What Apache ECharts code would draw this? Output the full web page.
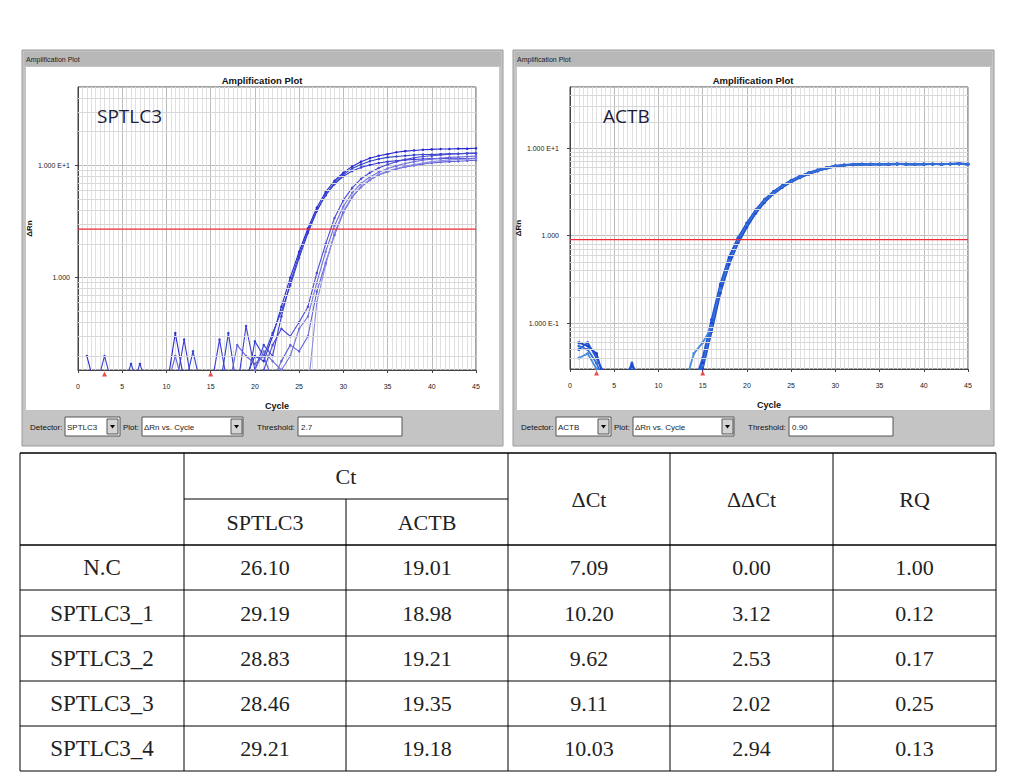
<!DOCTYPE html>
<html><head><meta charset="utf-8">
<script src="https://cdn.jsdelivr.net/npm/echarts@6/dist/echarts.min.js"></script>
<style>html,body{margin:0;padding:0;background:#fff}#c{width:1009px;height:775px}</style>
</head><body><div id="c"></div>
<script>
// ---------- data ----------
const cycles = [1,2,3,4,5,6,7,8,9,10,11,12,13,14,15,16,17,18,19,20,21,22,23,24,25,26,27,28,29,30,31,32,33,34,35,36,37,38,39,40,41,42,43,44,45];

// SPTLC3 amplification curves (delta Rn per cycle)
const sptlc3_a = [0.2,0.1,0.1,0.1,0.1,0.1,0.1,0.1,0.1,0.1, 0.32,0.12,0.1,0.1,0.1,0.1,0.1,0.1,0.13,0.2, 0.18,0.3,0.55,1.0,1.7,2.75,4.2,5.8,7.3,8.6, 9.8,10.8,11.6,12.2,12.6,13.1,13.4,13.6,13.8,13.9, 14.0,14.0,14.1,14.1,14.2];
const sptlc3_b = [0.1,0.1,0.2,0.1,0.1,0.1,0.17,0.1,0.1,0.1, 0.1,0.28,0.1,0.1,0.1,0.28,0.1,0.1,0.37,0.15, 0.25,0.2,0.45,0.9,1.6,2.6,4.0,5.4,6.8,8.0, 8.9,9.6,10.1,10.5,10.8,11.0,11.2,11.3,11.4,11.5, 11.5,11.6,11.6,11.5,11.6];
const sptlc3_c = [0.1,0.1,0.1,0.1,0.1,0.17,0.1,0.1,0.1,0.1, 0.1,0.1,0.22,0.1,0.1,0.1,0.32,0.1,0.1,0.27, 0.2,0.32,0.5,0.85,1.5,2.5,3.9,5.5,7.0,8.3, 9.4,10.2,10.9,11.4,11.8,12.0,12.2,12.4,12.5,12.5, 12.6,12.7,12.7,12.8,12.8];
const sptlc3_d = [0.1,0.1,0.1,0.1,0.1,0.1,0.1,0.1,0.1,0.1, 0.2,0.1,0.1,0.1,0.1,0.1,0.1,0.25,0.2,0.17, 0.2,0.12,0.18,0.25,0.22,0.3,0.75,1.35,2.4,3.8, 5.2,6.4,7.4,8.2,8.8,9.3,9.7,10.0,10.3,10.5, 10.7,10.8,10.9,11.0,11.1];
const sptlc3_e = [0.1,0.1,0.1,0.1,0.1,0.1,0.1,0.1,0.1,0.1, 0.1,0.1,0.1,0.1,0.1,0.1,0.1,0.1,0.1,0.15, 0.22,0.18,0.15,0.2,0.35,0.45,0.9,1.7,2.9,4.3, 5.7,6.9,7.9,8.7,9.4,9.9,10.4,10.8,11.1,11.4, 11.6,11.8,11.9,12.0,12.1];
const sptlc3_f = [0.1,0.1,0.1,0.1,0.1,0.1,0.1,0.1,0.1,0.1, 0.1,0.1,0.1,0.1,0.1,0.1,0.1,0.1,0.1,0.1, 0.15,0.25,0.35,0.3,0.4,0.55,1.1,2.0,3.4,4.9, 6.3,7.6,8.6,9.5,10.2,10.8,11.3,11.7,12.0,12.2, 12.4,12.6,12.7,12.8,12.9];
const sptlc3_g = [0.1,0.1,0.1,0.1,0.1,0.1,0.1,0.1,0.1,0.1, 0.1,0.1,0.1,0.1,0.1,0.1,0.1,0.1,0.1,0.1, 0.1,0.1,0.1,0.1,0.1,0.1,0.6,1.3,2.5,3.9, 5.3,6.5,7.5,8.3,8.9,9.4,9.8,10.2,10.5,10.8, 11.0,11.2,11.3,11.4,11.5];

// ACTB amplification curves
const actb_a = [0.06,0.055,0.045,0.02,0.02,0.02,0.02,0.02,0.02,0.02, 0.02,0.02,0.02,0.02,0.035,0.10,0.27,0.56,0.93,1.38, 1.95,2.55,3.15,3.7,4.25,4.75,5.2,5.6,6.0,6.25, 6.4,6.5,6.55,6.55,6.6,6.55,6.6,6.5,6.55,6.6, 6.55,6.6,6.6,6.65,6.5];
const actb_b = [0.05,0.06,0.04,0.025,0.02,0.02,0.035,0.02,0.02,0.02, 0.02,0.02,0.02,0.02,0.04,0.11,0.28,0.58,0.95,1.4, 1.98,2.6,3.2,3.75,4.3,4.8,5.25,5.65,6.0,6.3, 6.45,6.55,6.6,6.6,6.55,6.6,6.65,6.6,6.55,6.6, 6.6,6.55,6.6,6.7,6.6];
const actb_c = [0.04,0.045,0.03,0.02,0.02,0.02,0.02,0.02,0.02,0.02, 0.02,0.02,0.02,0.045,0.06,0.09,0.24,0.5,0.85,1.3, 1.85,2.45,3.05,3.6,4.15,4.65,5.1,5.5,5.9,6.2, 6.35,6.45,6.5,6.55,6.5,6.55,6.6,6.55,6.5,6.55, 6.6,6.55,6.6,6.6,6.5];
const actb_d = [0.02,0.02,0.02,0.02,0.02,0.02,0.033,0.02,0.02,0.02, 0.02,0.02,0.02,0.02,0.03,0.08,0.22,0.47,0.82,1.25, 1.8,2.4,3.0,3.55,4.1,4.6,5.05,5.5,5.85,6.15, 6.35,6.45,6.5,6.5,6.55,6.5,6.55,6.6,6.55,6.5, 6.6,6.55,6.6,6.65,6.55];
const actb_e = [0.055,0.05,0.035,0.02,0.02,0.02,0.02,0.02,0.02,0.02, 0.02,0.02,0.02,0.02,0.033,0.095,0.25,0.52,0.88,1.33, 1.9,2.5,3.1,3.65,4.2,4.7,5.15,5.55,5.95,6.2, 6.4,6.5,6.5,6.55,6.6,6.55,6.6,6.55,6.55,6.6, 6.6,6.55,6.6,6.6,6.55];

const thresholdSPTLC3 = 2.7;
const thresholdACTB = 0.90;
const baselineMarks = [3, 15];

// table
const tableRows = ['N.C','SPTLC3_1','SPTLC3_2','SPTLC3_3','SPTLC3_4'];
const ctSPTLC3 = [26.10, 29.19, 28.83, 28.46, 29.21];
const ctACTB   = [19.01, 18.98, 19.21, 19.35, 19.18];
const deltaCt  = [7.09, 10.20, 9.62, 9.11, 10.03];
const ddCt     = [0.00, 3.12, 2.53, 2.02, 2.94];
const rq       = [1.00, 0.12, 0.17, 0.25, 0.13];

// ---------- build ----------
const FONT = '"Liberation Sans Narrow","Liberation Sans",Arial,sans-serif';
const X_MIN = 0, X_MAX = 45;
const S_MIN = 0.15, S_MAX = 50, A_MIN = 0.03, A_MAX = 50;
const minorLog = [0.04,0.05,0.06,0.07,0.08,0.09,0.2,0.3,0.4,0.5,0.6,0.7,0.8,0.9,2,3,4,5,6,7,8,9,20,30,40];

function pairs(vals){ return vals.map((v,i)=>[cycles[i], v]); }

function xAx(gi){
  return {type:'value', gridIndex:gi, min:X_MIN, max:X_MAX, interval:5,
    name:'Cycle', nameLocation:'middle', nameGap:31,
    nameTextStyle:{fontSize:9, fontWeight:'bold', color:'#111', fontFamily:FONT},
    axisLine:{show:true, onZero:false, lineStyle:{color:'#444'}},
    axisTick:{show:true, length:3, lineStyle:{color:'#444'}},
    axisLabel:{fontSize:7, color:'#222', margin:13, fontFamily:FONT},
    splitLine:{show:true, lineStyle:{color:'#bcbcbc', width:1}},
    minorTick:{show:false, splitNumber:10},
    minorSplitLine:{show:true, lineStyle:{color:'#e0e0e0', width:1}}};
}
function yAx(gi, mn, mx, margin, gap){
  return {type:'log', logBase:10, gridIndex:gi, min:mn, max:mx,
    name:'ΔRn', nameLocation:'middle', nameGap:gap,
    nameTextStyle:{fontSize:8, fontWeight:'bold', color:'#111', fontFamily:FONT},
    axisLine:{show:true, lineStyle:{color:'#444'}},
    axisTick:{show:true, length:3, lineStyle:{color:'#444'}},
    axisLabel:{showMinLabel:false, showMaxLabel:false, fontSize:7, color:'#222', margin:margin, fontFamily:FONT,
      formatter:v=>{const e=Math.round(Math.log10(v)); return e===0?'1.000':'1.000 E'+(e>0?'+':'')+e;}},
    splitLine:{show:true, lineStyle:{color:'#bcbcbc', width:1}}};
}
function gridLineSeries(gi, mn, mx, thr){
  return {type:'line', xAxisIndex:gi, yAxisIndex:gi, data:[], z:1, silent:true,
    markLine:{silent:true, symbol:['none','none'], label:{show:false}, animation:false,
      lineStyle:{color:'#d8d8d8', type:'solid', width:1},
      data: minorLog.filter(v=>v>mn && v<mx && Math.abs(v-thr)>1e-9).map(v=>({yAxis:v}))}};
}
function thrSeries(gi, t){
  return {type:'line', xAxisIndex:gi, yAxisIndex:gi, data:[[X_MIN,t],[X_MAX,t]], z:10, silent:true,
    showSymbol:false, lineStyle:{color:'#ee2b36', width:1.2}, itemStyle:{color:'#ee2b36'}};
}
function curve(gi, vals, color, w, sym){
  return {type:'line', xAxisIndex:gi, yAxisIndex:gi, data:pairs(vals), z:4, clip:true,
    showSymbol:true, symbol:'circle', symbolSize:sym, lineStyle:{color:color, width:w},
    itemStyle:{color:color}};
}
function marks(gi, mn){
  return {type:'scatter', xAxisIndex:gi, yAxisIndex:gi, data:baselineMarks.map(c=>[c,mn]), z:11, clip:false,
    symbol:'triangle', symbolSize:[5,5], symbolOffset:[0,4], itemStyle:{color:'#e02020'}};
}

const leftColors = ['#2a2ad0','#3c3cd8','#2f44c8','#6060d8','#7070dc','#4a4ad4','#8a8ae4'];
const rightColors = ['#1a44c8','#2356d6','#4a8ae0','#1f4ccc','#3570d8'];
const leftCurves = [sptlc3_a,sptlc3_b,sptlc3_c,sptlc3_d,sptlc3_e,sptlc3_f,sptlc3_g];
const rightCurves = [actb_a,actb_b,actb_c,actb_d,actb_e];

// ---------- graphic chrome ----------
function txt(x,y,s,font,color,align,z){
  return {type:'text', z:z||50, silent:true, style:{x:x, y:y, text:s, font:font, fill:color||'#111',
    textAlign:align||'left', textVerticalAlign:'middle', align:align||'left', verticalAlign:'middle'}};
}
function rect(x,y,w,h,fill,stroke,z){
  return {type:'rect', z:z, silent:true, shape:{x:x,y:y,width:w,height:h}, style:{fill:fill, stroke:stroke||null, lineWidth:1}};
}
function dropArrow(x,y){
  return [rect(x,y,11,15,'#d4d4d4','#555',-5),
    {type:'polygon', z:-4, silent:true, shape:{points:[[x+3,y+6],[x+8,y+6],[x+5.5,y+9.5]]}, style:{fill:'#000'}}];
}
function panel(ox, det, thr, big, bigX){
  let e = [];
  e.push(rect(ox,50,481,396,'#c4c4c4','#9a9a9a',-10));
  e.push(rect(ox+2,52,477,14,'#b8b8b8',null,-9));
  e.push(txt(ox+4,59,'Amplification Plot','7px '+FONT,'#222','left'));
  e.push(rect(ox+4,67,473,343,'#ffffff',null,-9));
  e.push(txt(ox+240,80,'Amplification Plot','bold 9.5px '+FONT,'#111','center'));
  e.push(txt(ox+bigX,116,big,'19px "Open Sans","Noto Sans",sans-serif','#1c1c3c','left'));
  const ty = 427;
  e.push(txt(ox+8,ty,'Detector:','8px '+FONT,'#111','left'));
  e.push(rect(ox+43,417,55,19,'#ffffff','#555',-6));
  e.push(txt(ox+45,ty,det,'8px '+FONT,'#222','left'));
  e = e.concat(dropArrow(ox+85,419));
  e.push(txt(ox+101,ty,'Plot:','8px '+FONT,'#111','left'));
  e.push(rect(ox+120,417,101,19,'#ffffff','#555',-6));
  e.push(txt(ox+122,ty,'ΔRn vs. Cycle','8px '+FONT,'#222','left'));
  e = e.concat(dropArrow(ox+209,419));
  e.push(txt(ox+235,ty,'Threshold:','8px '+FONT,'#111','left'));
  e.push(rect(ox+276,417,104,19,'#ffffff','#555',-6));
  e.push(txt(ox+279,ty,thr,'8px '+FONT,'#222','left'));
  return e;
}

function table(){
  const e = [];
  const xs = [20,184,346,508,670,833,996];
  const hy = [453,545,590,636,681,726,771];
  const L = (x1,y1,x2,y2,w)=>({type:'line', z:20, silent:true, shape:{x1,y1,x2,y2}, style:{stroke:'#000', lineWidth:w||1}});
  hy.forEach((y,i)=>e.push(L(20,y,996,y, (i===0||i===1)?1.5:1)));
  e.push(L(184,499,508,499));
  [20,184,508,670,833,996].forEach(x=>e.push(L(x,453,x,771)));
  e.push(L(346,499,346,771));
  const F = '22px "Liberation Serif","DejaVu Serif",serif';
  const FL = '23px "Liberation Serif","DejaVu Serif",serif';
  const cx = xs.slice(0,6).map((x,i)=>(x+xs[i+1])/2);
  e.push(txt((184+508)/2,476,'Ct',F,'#222','center'));
  e.push(txt(cx[1],522,'SPTLC3',F,'#222','center'));
  e.push(txt(cx[2],522,'ACTB',F,'#222','center'));
  e.push(txt(cx[3],499,'ΔCt',F,'#222','center'));
  e.push(txt(cx[4],499,'ΔΔCt',F,'#222','center'));
  e.push(txt(cx[5],499,'RQ',F,'#222','center'));
  tableRows.forEach((r,i)=>{
    const y = (hy[i+1]+hy[i+2])/2;
    const vals = [r, ctSPTLC3[i].toFixed(2), ctACTB[i].toFixed(2), deltaCt[i].toFixed(2), ddCt[i].toFixed(2), rq[i].toFixed(2)];
    vals.forEach((v,j)=>e.push(txt(cx[j],y,v,j===0?FL:F,'#222','center')));
  });
  return e;
}

const series = [
  gridLineSeries(0,S_MIN,S_MAX,thresholdSPTLC3), gridLineSeries(1,A_MIN,A_MAX,thresholdACTB),
  ...leftCurves.map((c,i)=>curve(0,c,leftColors[i],1.1,2.5)),
  ...rightCurves.map((c,i)=>curve(1,c,rightColors[i],1.8,3)),
  thrSeries(0,thresholdSPTLC3), thrSeries(1,thresholdACTB),
  marks(0,S_MIN), marks(1,A_MIN)
];

const chart = echarts.init(document.getElementById('c'), null, {renderer:'svg', width:1009, height:775});
chart.setOption({
  animation:false,
  backgroundColor:'#ffffff',
  grid:[
    {left:78, top:87, width:398, height:283, show:true, backgroundColor:'#ffffff', borderColor:'#444', borderWidth:1, z:0},
    {left:570, top:87, width:398, height:282, show:true, backgroundColor:'#ffffff', borderColor:'#444', borderWidth:1, z:0}
  ],
  xAxis:[xAx(0), xAx(1)],
  yAxis:[yAx(0,S_MIN,S_MAX,8,43), yAx(1,A_MIN,A_MAX,11,42)],
  series: series,
  graphic:{elements:[...panel(22,'SPTLC3',String(thresholdSPTLC3),'SPTLC3',75), ...panel(513,'ACTB',thresholdACTB.toFixed(2),'ACTB',90), ...table()]}
});
</script>
</body></html>
